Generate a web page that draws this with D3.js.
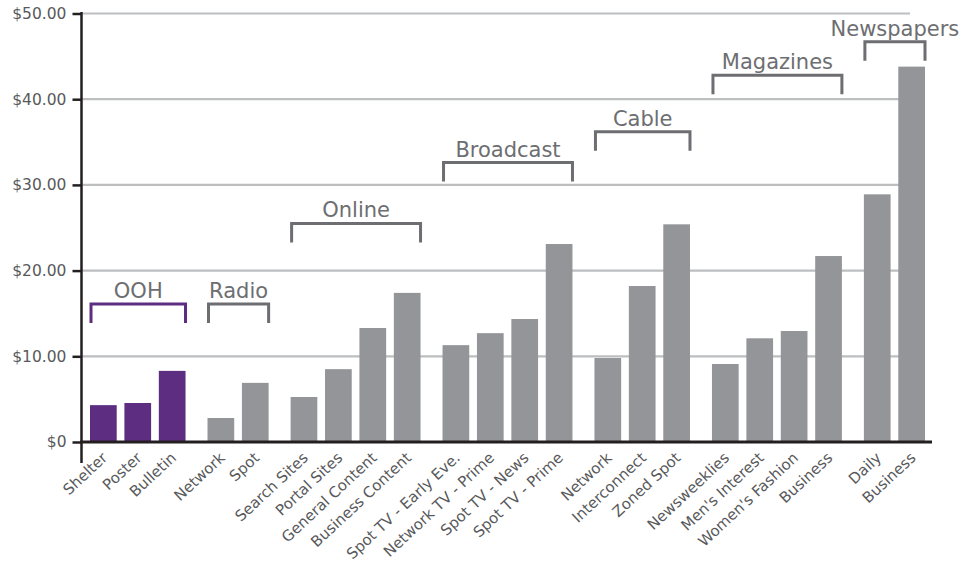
<!DOCTYPE html>
<html>
<head>
<meta charset="utf-8">
<script src="https://cdn.jsdelivr.net/npm/d3@7"></script>
<style>
  html, body { margin: 0; padding: 0; background: #fff; }
  svg { display: block; font-family: "DejaVu Sans", sans-serif; }
</style>
</head>
<body>
<svg id="chart" width="974" height="573"></svg>
<script>
// Media channels, grouped by medium
const groups = ["OOH", "Radio", "Online", "Broadcast", "Cable", "Magazines", "Newspapers"];
const categories = [
  "Shelter", "Poster", "Bulletin",
  "Network", "Spot",
  "Search Sites", "Portal Sites", "General Content", "Business Content",
  "Spot TV - Early Eve.", "Network TV - Prime", "Spot TV - News", "Spot TV - Prime",
  "Network", "Interconnect", "Zoned Spot",
  "Newsweeklies", "Men's Interest", "Women's Fashion", "Business",
  "Daily", "Business"
];
const groupIndex = [0, 0, 0, 1, 1, 2, 2, 2, 2, 3, 3, 3, 3, 4, 4, 4, 5, 5, 5, 5, 6, 6];
// Cost per thousand (USD)
const values = [
  4.3, 4.55, 8.3,
  2.8, 6.9,
  5.25, 8.5, 13.3, 17.4,
  11.3, 12.7, 14.35, 23.1,
  9.8, 18.2, 25.4,
  9.1, 12.1, 12.95, 21.7,
  28.9, 43.8
];
// Height (in dollars) at which each group's bracket sits
const bracketLevels = [16.1, 16.1, 25.5, 32.6, 36.2, 42.8, 46.7];
const yTicks = [0, 10, 20, 30, 40, 50];

const purple = "#5c2d80";
const gray = "#939598";
const bracketGray = "#6d6e71";
const axisColor = "#231f20";

const svg = d3.select("#chart");

const y = d3.scaleLinear().domain([0, 50]).range([442, 13.5]);

// Horizontal layout: one unit per bar, plus an extra gap between groups
const groupGap = 0.415;
const barUnits = 0.776;
const pos = categories.map((c, i) => i + groupIndex[i] * groupGap);
const x = d3.scaleLinear()
  .domain([0, pos[pos.length - 1] + barUnits])
  .range([90, 925]);
const barW = x(barUnits) - x(0);

// Gridlines
svg.append("g")
  .selectAll("line")
  .data(yTicks.filter(t => t > 0))
  .join("line")
  .attr("x1", 82).attr("x2", 910)
  .attr("y1", d => y(d)).attr("y2", d => y(d))
  .attr("stroke", "#bcbec0").attr("stroke-width", 2.2);

// Bars
svg.append("g")
  .selectAll("rect")
  .data(values)
  .join("rect")
  .attr("x", (d, i) => x(pos[i]))
  .attr("width", barW)
  .attr("y", d => y(d))
  .attr("height", d => y(0) - y(d))
  .attr("fill", (d, i) => groupIndex[i] === 0 ? purple : gray);

// Y axis
const yAxis = d3.axisLeft(y)
  .tickValues(yTicks)
  .tickSize(9)
  .tickPadding(6)
  .tickFormat(d => d === 0 ? "$0" : "$" + d3.format(".2f")(d));
const gy = svg.append("g").attr("transform", "translate(81.5,0)").call(yAxis);
gy.select(".domain").remove();
gy.selectAll(".tick line").attr("stroke", axisColor).attr("stroke-width", 2.5);
gy.selectAll(".tick text")
  .attr("fill", "#58595b")
  .style("font-size", "15.5px")
  .style("font-family", "'DejaVu Sans', sans-serif");

svg.append("line")
  .attr("x1", 81.5).attr("x2", 81.5)
  .attr("y1", 12).attr("y2", 463)
  .attr("stroke", axisColor).attr("stroke-width", 2.5);

// Baseline
svg.append("line")
  .attr("x1", 80).attr("x2", 932)
  .attr("y1", y(0)).attr("y2", y(0))
  .attr("stroke", axisColor).attr("stroke-width", 3);

// Category labels
svg.append("g")
  .selectAll("text")
  .data(categories)
  .join("text")
  .attr("transform", (d, i) => `translate(${x(pos[i]) + barW / 2 + 5},${459}) rotate(-43)`)
  .attr("text-anchor", "end")
  .attr("fill", "#58595b")
  .style("font-size", "15px")
  .text(d => d);

// Group brackets and titles
const groupSpans = groups.map((g, gi) => {
  const idx = d3.range(categories.length).filter(i => groupIndex[i] === gi);
  return {
    name: g,
    x0: x(pos[idx[0]]) + 1,
    x1: x(pos[idx[idx.length - 1]]) + barW,
    top: y(bracketLevels[gi]),
    color: gi === 0 ? purple : bracketGray
  };
});

const br = svg.append("g").selectAll("g").data(groupSpans).join("g");
br.append("path")
  .attr("d", d => `M${d.x0},${d.top + 19}V${d.top}H${d.x1}V${d.top + 19}`)
  .attr("fill", "none")
  .attr("stroke", d => d.color)
  .attr("stroke-width", 3);
br.append("text")
  .attr("x", d => (d.x0 + d.x1) / 2)
  .attr("y", d => d.top - 6)
  .attr("text-anchor", "middle")
  .attr("fill", bracketGray)
  .style("font-size", "21px")
  .text(d => d.name);
</script>
</body>
</html>
